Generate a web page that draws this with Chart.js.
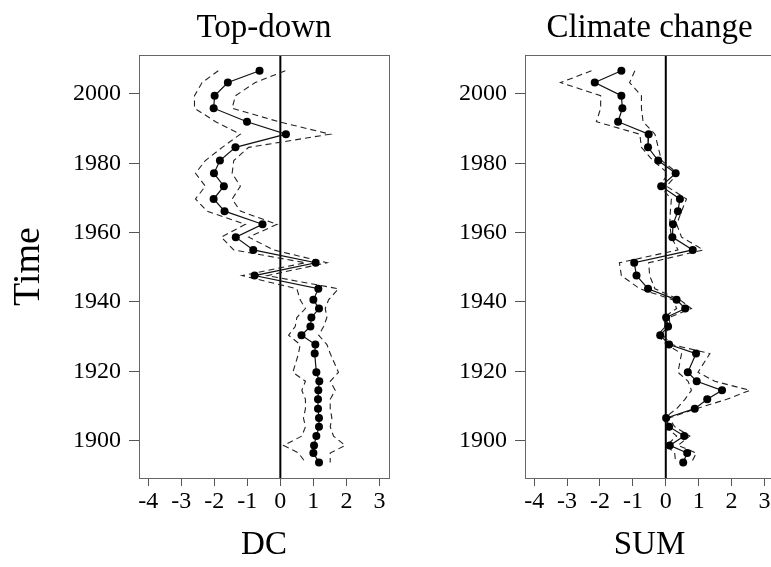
<!DOCTYPE html>
<html>
<head>
<meta charset="utf-8">
<script src="https://cdn.jsdelivr.net/npm/chart.js@4.4.1/dist/chart.umd.min.js"></script>
<style>
  html, body { margin: 0; padding: 0; background: #fff; overflow: hidden; }
  body { width: 771px; height: 567px; position: relative; }
  canvas { position: absolute; top: 0; }
  #dc { left: 0; }
  #sum { left: 400px; }
</style>
</head>
<body>
<canvas id="dc" width="400" height="567"></canvas>
<canvas id="sum" width="385" height="567"></canvas>
<script>
const years = [2006.7, 2003.3, 1999.5, 1995.9, 1992.0, 1988.4, 1984.6, 1980.8, 1977.1, 1973.4,
  1969.7, 1966.2, 1962.4, 1958.7, 1955.0, 1951.3, 1947.6, 1943.8, 1940.6, 1938.1,
  1935.5, 1932.9, 1930.4, 1927.7, 1925.1, 1919.7, 1917.1, 1914.5, 1911.9, 1909.2,
  1906.5, 1904.0, 1901.3, 1898.6, 1896.4, 1893.7];

// Top-down (DC)
const dcValues = [-0.63, -1.59, -1.99, -2.02, -1.01, 0.17, -1.36, -1.83, -2.01, -1.71,
  -2.02, -1.69, -0.54, -1.35, -0.82, 1.07, -0.78, 1.15, 1.00, 1.17,
  0.94, 0.91, 0.64, 1.06, 1.04, 1.09, 1.18, 1.15, 1.14, 1.14,
  1.17, 1.17, 1.09, 1.02, 1.00, 1.17];
const dcLower = [-1.88, -2.37, -2.60, -2.60, -1.96, -1.21, -1.76, -2.27, -2.57, -2.27,
  -2.57, -2.22, -1.06, -1.79, -1.41, 0.76, -1.16, 0.50, 0.60, 0.76,
  0.50, 0.45, 0.25, 0.60, 0.55, 0.38, 0.76, 0.65, 0.76, 0.76,
  0.70, 0.76, 0.65, 0.10, 0.55, 0.76];
const dcUpper = [0.15, -0.76, -1.36, -1.46, -0.05, 1.51, -0.96, -1.41, -1.46, -1.21,
  -1.46, -1.21, -0.10, -0.96, -0.20, 1.41, -0.40, 1.76, 1.46, 1.36,
  1.41, 1.31, 1.16, 1.41, 1.51, 1.76, 1.51, 1.66, 1.51, 1.51,
  1.56, 1.51, 1.61, 1.96, 1.51, 1.51];

// Climate change (SUM)
const sumValues = [-1.35, -2.16, -1.35, -1.32, -1.45, -0.52, -0.54, -0.23, 0.30, -0.14,
  0.43, 0.37, 0.22, 0.20, 0.82, -0.96, -0.89, -0.54, 0.33, 0.59,
  0.01, 0.07, -0.17, 0.10, 0.92, 0.67, 0.94, 1.71, 1.26, 0.88,
  0.01, 0.10, 0.56, 0.12, 0.65, 0.53];
const sumLower = [-2.26, -3.20, -1.98, -1.98, -2.11, -0.79, -0.74, -0.39, 0.07, -0.18,
  0.17, 0.14, 0.12, 0.17, 0.37, -1.41, -1.35, -0.79, 0.22, 0.33,
  -0.07, -0.01, -0.25, 0.02, 0.48, 0.37, 0.68, 0.78, 0.58, 0.33,
  -0.05, 0.00, 0.33, 0.02, 0.27, 0.30];
const sumUpper = [-0.94, -1.10, -0.74, -0.74, -0.69, -0.33, -0.23, -0.13, 0.37, 0.02,
  0.63, 0.48, 0.33, 0.48, 1.14, -0.52, -0.49, -0.33, 0.43, 0.78,
  0.09, 0.15, -0.09, 0.18, 1.34, 0.98, 1.49, 2.56, 1.85, 0.93,
  0.10, 0.27, 0.73, 0.37, 0.93, 0.78];

const xTicks = [-4, -3, -2, -1, 0, 1, 2, 3];
const yTicks = [1900, 1920, 1940, 1960, 1980, 2000];

const FONT = '"Liberation Serif", "Times New Roman", serif';

// box round the plot, the zero line and the panel title
const panelFrame = {
    id: 'panelFrame',
    beforeDatasetsDraw(chart) {
        const {ctx, chartArea: a, scales: {x}} = chart;
        const zx = x.getPixelForValue(0);
        ctx.save();
        ctx.strokeStyle = '#000';
        ctx.lineWidth = 2;
        ctx.beginPath();
        ctx.moveTo(zx, a.top);
        ctx.lineTo(zx, a.bottom);
        ctx.stroke();
        ctx.restore();
    },
    afterDraw(chart, args, opts) {
        const {ctx, chartArea: a} = chart;
        ctx.save();
        ctx.strokeStyle = '#666';
        ctx.lineWidth = 1;
        ctx.strokeRect(a.left + 0.5, a.top + 0.5, a.width, a.height);
        ctx.fillStyle = '#000';
        ctx.font = '33px ' + FONT;
        ctx.textAlign = 'center';
        ctx.textBaseline = 'middle';
        ctx.fillText(opts.text, (a.left + a.right) / 2, 28);
        ctx.restore();
    }
};

function makePanel(canvasId, {title, xLabel, yLabel, yWidth, values, lower, upper}) {
    const pts = arr => years.map((y, i) => ({x: arr[i], y: y}));
    const band = arr => ({
        data: pts(arr),
        showLine: true,
        borderColor: '#222',
        borderWidth: 1.1,
        borderDash: [6, 4],
        pointRadius: 0,
        order: 2
    });
    return new Chart(document.getElementById(canvasId), {
        type: 'scatter',
        data: {
            datasets: [
                {
                    data: pts(values),
                    showLine: true,
                    borderColor: '#111',
                    borderWidth: 1.2,
                    pointRadius: 4,
                    pointBackgroundColor: '#000',
                    pointBorderColor: '#000',
                    pointBorderWidth: 0,
                    order: 1
                },
                band(lower),
                band(upper)
            ]
        },
        options: {
            responsive: false,
            animation: false,
            layout: {padding: {top: 55, right: 11, bottom: 0, left: 0}},
            plugins: {
                legend: {display: false},
                tooltip: {enabled: false},
                panelFrame: {text: title}
            },
            scales: {
                x: {
                    type: 'linear',
                    min: -4.28,
                    max: 3.29,
                    afterFit: s => { s.height = 89; },
                    afterBuildTicks: s => { s.ticks = xTicks.map(v => ({value: v})); },
                    grid: {drawOnChartArea: false, drawTicks: true, tickLength: 8, color: '#555'},
                    border: {display: false},
                    ticks: {
                        color: '#000',
                        padding: 1,
                        maxRotation: 0,
                        autoSkip: false,
                        font: {family: FONT, size: 24},
                        callback: v => String(v)
                    },
                    title: {
                        display: true,
                        text: xLabel,
                        color: '#000',
                        font: {family: FONT, size: 33},
                        padding: {top: 0, bottom: 2}
                    }
                },
                y: {
                    type: 'linear',
                    min: 1889.2,
                    max: 2011.25,
                    afterFit: s => { s.width = yWidth; },
                    afterBuildTicks: s => { s.ticks = yTicks.map(v => ({value: v})); },
                    grid: {drawOnChartArea: false, drawTicks: true, tickLength: 10, color: '#555'},
                    border: {display: false},
                    ticks: {
                        color: '#000',
                        padding: 8,
                        autoSkip: false,
                        font: {family: FONT, size: 24},
                        callback: v => String(v)
                    },
                    title: {
                        display: !!yLabel,
                        text: yLabel,
                        color: '#000',
                        font: {family: FONT, size: 38},
                        padding: {top: 6, bottom: 0}
                    }
                }
            }
        },
        plugins: [panelFrame]
    });
}

makePanel('dc', {
    title: 'Top-down', xLabel: 'DC', yLabel: 'Time', yWidth: 139,
    values: dcValues, lower: dcLower, upper: dcUpper
});
makePanel('sum', {
    title: 'Climate change', xLabel: 'SUM', yLabel: '', yWidth: 125,
    values: sumValues, lower: sumLower, upper: sumUpper
});
</script>
</body>
</html>
